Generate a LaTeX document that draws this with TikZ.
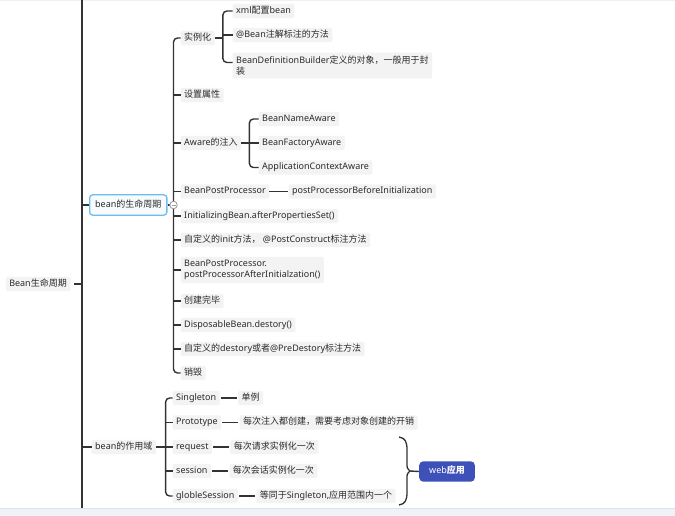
\documentclass[tikz,border=0pt]{standalone}
\usepackage{fontspec}
\setmainfont{Noto Sans}
\newfontfamily\cjk{Noto Sans CJK SC}
\newcommand\C[1]{{\cjk #1}}
\usetikzlibrary{positioning}
\definecolor{txt}{HTML}{2A2A2A}
\definecolor{ln}{HTML}{333333}
\definecolor{tbg}{HTML}{F3F3F3}
\definecolor{lcb}{HTML}{6CBDF0}
\definecolor{lcf}{HTML}{F8FBFE}
\definecolor{wbg}{HTML}{3D51B8}
\definecolor{strip}{HTML}{EFF3F8}
\definecolor{stripln}{HTML}{DCE3EB}
\definecolor{colc}{HTML}{9A9A9A}
\begin{document}
\begin{tikzpicture}[x=1pt,y=-1pt,
  tn/.style={fill=tbg, rounded corners=2pt, inner xsep=3.5pt, inner ysep=3pt,
    text height=6.5pt, text depth=1.8pt, font=\fontsize{9}{11.5}\selectfont, text=txt, anchor=west},
  tntwo/.style={fill=tbg, rounded corners=2pt, inner xsep=3.5pt, inner ysep=3pt,
    align=left, font=\fontsize{9}{11.5}\selectfont, text=txt, anchor=west},
  lcbox/.style={draw=lcb, fill=lcf, line width=1.3pt, rounded corners=3pt, inner xsep=5.5pt,
    inner ysep=6pt, text height=6.5pt, text depth=1.8pt, font=\fontsize{9}{11.5}\selectfont, text=txt, anchor=west},
  wbox/.style={fill=wbg, rounded corners=4pt, inner xsep=10pt, inner ysep=6pt,
    text height=6.5pt, text depth=1.8pt, font=\fontsize{9}{11.5}\selectfont\bfseries, text=white, anchor=west},
  conn/.style={draw=ln, line width=1.4pt},
  detl/.style={draw=ln, line width=1.7pt}
]
\useasboundingbox (0,0) rectangle (675,516);
\fill[white] (0,0) rectangle (675,516);
\draw[gray!12, line width=1pt] (0,0.5) -- (675,0.5);

% root
\coordinate (rtop) at (82,-2);
\coordinate (rbot) at (82,508);
\node[tn, anchor=east] (root) at (70.5,284) {Bean\C{生命周期}};
\draw[conn] (rtop) -- (rbot);
\draw[conn] ([xshift=3pt]root.east) -- (root.east -| rtop);

% lifecycle
\node[lcbox] (lc) at (89,205) {bean\C{的生命周期}};
\draw[conn] (lc.west -| rtop) -- (lc.west);
\coordinate (hub) at ([xshift=6pt]lc.east);

\node[tn] (c1) at (180.5,38) {\C{实例化}};
\node[tn] (c2) at (180.5,95) {\C{设置属性}};
\node[tn] (c3) at (180.5,143) {Aware\C{的注入}};
\node[tn] (c4) at (180.5,191.5) {BeanPostProcessor};
\node[tn] (c5) at (180.5,216) {InitializingBean.afterPropertiesSet()};
\node[tn] (c6) at (180.5,240) {\C{自定义的}init\C{方法，} @PostConstruct\C{标注方法}};
\node[tntwo] (c7) at (180.5,270) {BeanPostProcessor.\\postProcessorAfterInitialzation()};
\node[tn] (c8) at (180.5,301) {\C{创建完毕}};
\node[tn] (c9) at (180.5,325) {DisposableBean.destory()};
\node[tn] (c10) at (180.5,349) {\C{自定义的}destory\C{或者}@PreDestory\C{标注方法}};
\node[tn] (c11) at (180.5,373) {\C{销毁}};

\draw[conn] (lc.east) -- (hub);
\draw[conn, rounded corners=4pt] (c1.west) -| (hub) |- (c11.west);
\foreach \n in {c2,c3,c4,c5,c6,c7,c8,c9,c10}
  \draw[conn] (hub |- \n.west) -- (\n.west);

% instantiation children
\coordinate (b1) at ([xshift=8pt]c1.east);
\node[tn] (i1) at (232.5,11) {xml\C{配置}bean};
\node[tn] (i2) at (232.5,35) {@Bean\C{注解标注的方法}};
\node[tntwo] (i3) at (232.5,65.5) {BeanDefinitionBuilder\C{定义的对象，一般用于封}\\\C{装}};
\draw[conn] (c1.east) -- (b1);
\draw[conn, rounded corners=4pt] (i1.west) -| (b1) |- ([yshift=3pt]i3.west);
\draw[conn] (b1 |- i2.west) -- (i2.west);

% aware children
\coordinate (b2) at ([xshift=8pt]c3.east);
\node[tn] (a1) at (258.5,119) {BeanNameAware};
\node[tn] (a2) at (258.5,143) {BeanFactoryAware};
\node[tn] (a3) at (258.5,167.5) {ApplicationContextAware};
\draw[conn] (c3.east) -- (b2);
\draw[conn, rounded corners=4pt] (a1.west) -| (b2) |- (a3.west);
\draw[conn] (b2 |- a2.west) -- (a2.west);

% BPP detail
\node[tn, right=19pt of c4] (p1) {postProcessorBeforeInitialization};
\draw[detl] (c4.east) -- (p1.west);

% collapse marker
\node[circle, draw=colc, fill=white, inner sep=0pt, minimum size=7.5pt, line width=0.8pt] (col) at (hub) {};
\draw[colc, line width=0.8pt] ([xshift=-2pt]col.center) -- ([xshift=2pt]col.center);

% scope
\node[tn] (sc) at (91.5,447) {bean\C{的作用域}};
\draw[conn] (sc.west -| rtop) -- (sc.west);
\coordinate (hub2) at ([xshift=9.5pt]sc.east);
\node[tn] (s1) at (172.5,398) {Singleton};
\node[tn] (s2) at (172.5,422.5) {Prototype};
\node[tn] (s3) at (172.5,447) {request};
\node[tn] (s4) at (172.5,471) {session};
\node[tn] (s5) at (172.5,496) {globleSession};
\draw[conn] (sc.east) -- (hub2);
\draw[conn, rounded corners=4pt] (s1.west) -| (hub2) |- (s5.west);
\foreach \n in {s2,s3,s4}
  \draw[conn] (hub2 |- \n.west) -- (\n.west);

\node[tn, right=18pt of s1] (d1) {\C{单例}};
\node[tn, right=18pt of s2] (d2) {\C{每次注入都创建，需要考虑对象创建的开销}};
\node[tn, right=18pt of s3] (d3) {\C{每次请求实例化一次}};
\node[tn, right=18pt of s4] (d4) {\C{每次会话实例化一次}};
\node[tn, right=18pt of s5] (d5) {\C{等同于}Singleton,\C{应用范围内一个}};
\foreach \a/\b in {s1/d1,s2/d2,s3/d3,s4/d4,s5/d5}
  \draw[detl] ([xshift=1pt]\a.east) -- ([xshift=-1pt]\b.west);

% summary brace
\coordinate (brt) at (399,437);
\coordinate (brb) at (399,505);
\coordinate (brm) at (410,471);
\draw[conn, line width=1.3pt] (brt) .. controls (405.5,438) and (407,442) .. (407,450) -- (407,463)
  .. controls (407,468) .. (brm) .. controls (407,474) .. (407,479) -- (407,492)
  .. controls (407,500) and (405.5,504) .. (brb);
\node[wbox] (web) at (419,471.5) {web\C{应用}};
\draw[conn] (brm) -- (web.west);

% bottom strip
\fill[strip] (0,508) rectangle (675,516);
\draw[stripln, line width=0.8pt] (0,508) -- (675,508);
\end{tikzpicture}
\end{document}
